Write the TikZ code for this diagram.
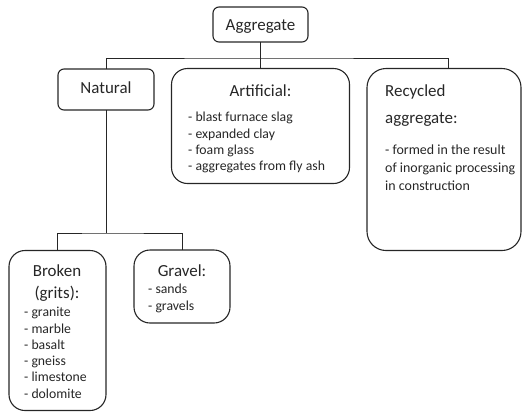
\documentclass[tikz,border=0pt]{standalone}
\usepackage{fontspec}
\setmainfont{Carlito}
\usetikzlibrary{positioning}

\definecolor{inkgray}{RGB}{38,38,38}

\tikzset{
    box/.style={draw=inkgray, line width=1.1bp, inner sep=0pt, outer sep=0pt},
    smallbox/.style={box, rounded corners=6bp},
    bigbox/.style={box, rounded corners=16bp},
    conn/.style={draw=inkgray, line width=0.9bp},
    head/.style={text=inkgray, inner sep=0pt, font=\fontsize{17}{20}\selectfont},
    item/.style={text=inkgray, inner sep=0pt, font=\fontsize{13.8}{16.4}\selectfont},
}

\begin{document}
\begin{tikzpicture}[x=1bp, y=-1bp]
    \useasboundingbox (0,0) rectangle (522,412);

    % Top level
    \node[smallbox, minimum width=95bp, minimum height=35bp] (agg) at (260.5,24.5) {};
    \node[head, anchor=base] (aggT) at (260.5,30.7) {Aggregate};

    % Natural
    \node[smallbox, minimum width=96bp, minimum height=41bp] (nat) at (106,89.5) {};
    \node[head, anchor=base] (natT) at (106,93.3) {Natural};

    % Artificial
    \node[bigbox, minimum width=178bp, minimum height=115bp] (art) at (260.5,126) {};
    \node[head, anchor=base] (artT) at (260.5,96.7) {Artificial:};
    \foreach \t [count=\i] in {blast furnace slag, expanded clay, foam glass, aggregates from fly ash}
        \node[item, anchor=base west] (art\i) at (188,{121.7+16.4*(\i-1)}) {- \t};

    % Recycled aggregate
    \node[bigbox, rounded corners=19bp, minimum width=154bp, minimum height=182bp] (rec) at (444,159.5) {};
    \node[head, anchor=base west] (recT1) at (385,96.7) {Recycled};
    \node[head, anchor=base west] (recT2) at (385,123.3) {aggregate:};
    \foreach \t [count=\i] in {- formed in the result, of inorganic processing, in construction}
        \node[item, font=\fontsize{14}{17}\selectfont, anchor=base west] (rec\i) at (385,{154.3+18*(\i-1)}) {\t};

    % Broken (grits)
    \node[bigbox, minimum width=97bp, minimum height=160bp] (bro) at (57.5,330.5) {};
    \node[head, anchor=base] (broT1) at (57,276.7) {Broken};
    \node[head, anchor=base] (broT2) at (57,298.3) {(grits):};
    \foreach \t [count=\i] in {granite, marble, basalt, gneiss, limestone, dolomite}
        \node[item, anchor=base west] (bro\i) at (24,{316.7+16.3*(\i-1)}) {- \t};

    % Gravel
    \node[bigbox, minimum width=96bp, minimum height=73bp] (gra) at (182,286.5) {};
    \node[head, anchor=base] (graT) at (182,276.7) {Gravel:};
    \foreach \t [count=\i] in {sands, gravels}
        \node[item, anchor=base west] (gra\i) at (148,{293.3+16.7*(\i-1)}) {- \t};

    % Connectors
    \draw[conn] (agg.south) -- ++(0,16) coordinate (split);
    \draw[conn] (split) -- (art.north);
    \draw[conn] (nat.north) |- (split) -| ([xshift=4bp]rec.north);
    \draw[conn] (nat.south) -- ++(0,123) coordinate (split2);
    \draw[conn] (bro.north) |- (split2) -| (gra.north);
\end{tikzpicture}
\end{document}
